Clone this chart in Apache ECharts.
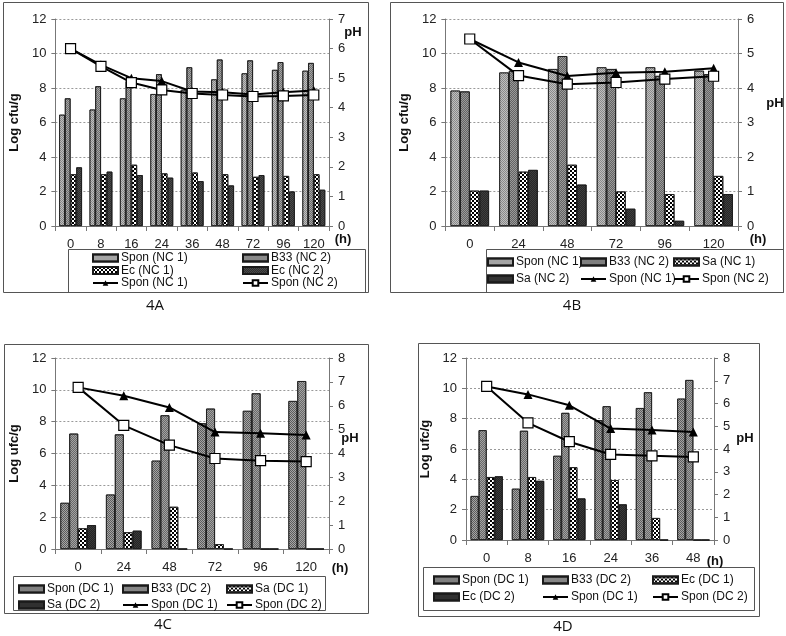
<!DOCTYPE html>
<html>
<head>
<meta charset="utf-8">
<script src="https://cdn.jsdelivr.net/npm/echarts@6/dist/echarts.min.js"></script>
<style>
  html, body { margin: 0; padding: 0; background: #fff; }
  #page { position: relative; width: 786px; height: 636px; }
  .panel { position: absolute; }
</style>
</head>
<body>
<div id="page">
  <div id="pA" class="panel" style="left:0;top:0;width:390px;height:318px"></div>
  <div id="pB" class="panel" style="left:390px;top:0;width:396px;height:318px"></div>
  <div id="pC" class="panel" style="left:0;top:318px;width:390px;height:318px"></div>
  <div id="pD" class="panel" style="left:390px;top:318px;width:396px;height:318px"></div>
</div>
<script>
// ---- Panel 4A : NC fermentation, E. coli challenge ----
const hoursA = ['0', '8', '16', '24', '36', '48', '72', '96', '120'];
const sponNC1_A = [6.45, 6.75, 7.4, 7.65, 7.9, 8.5, 8.85, 9.05, 9.0];
const b33NC2_A  = [7.4, 8.1, 8.4, 8.8, 9.2, 9.65, 9.6, 9.5, 9.45];
const ecNC1_A   = [3.0, 3.0, 3.55, 3.05, 3.1, 3.0, 2.85, 2.9, 3.0];
const ecNC2_A   = [3.4, 3.15, 2.95, 2.8, 2.6, 2.35, 2.95, 2.0, 2.1];
const phNC1_A   = [6.0, 5.45, 5.0, 4.9, 4.55, 4.52, 4.45, 4.52, 4.58];
const phNC2_A   = [6.0, 5.4, 4.85, 4.6, 4.48, 4.43, 4.38, 4.4, 4.43];

// ---- Panel 4B : NC fermentation, S. aureus challenge ----
const hoursB = ['0', '24', '48', '72', '96', '120'];
const sponNC1_B = [7.85, 8.9, 9.1, 9.2, 9.2, 9.0];
const b33NC2_B  = [7.8, 9.0, 9.85, 9.1, 8.7, 8.8];
const saNC1_B   = [2.05, 3.15, 3.55, 2.0, 1.85, 2.9];
const saNC2_B   = [2.05, 3.25, 2.4, 1.0, 0.3, 1.85];
const phNC1_B   = [5.42, 4.74, 4.35, 4.44, 4.47, 4.57];
const phNC2_B   = [5.42, 4.36, 4.11, 4.16, 4.26, 4.34];

// ---- Panel 4C : DC fermentation, S. aureus challenge ----
const hoursC = ['0', '24', '48', '72', '96', '120'];
const sponDC1_C = [2.9, 3.42, 5.55, 7.9, 8.68, 9.3];
const b33DC2_C  = [7.25, 7.2, 8.4, 8.82, 9.78, 10.55];
const saDC1_C   = [1.3, 1.05, 2.65, 0.3, 0, 0];
const saDC2_C   = [1.5, 1.15, 0, 0, 0, 0];
const phDC1_C   = [6.77, 6.42, 5.93, 4.9, 4.85, 4.78];
const phDC2_C   = [6.77, 5.18, 4.35, 3.79, 3.7, 3.66];

// ---- Panel 4D : DC fermentation, E. coli challenge ----
const hoursD = ['0', '8', '16', '24', '36', '48'];
const sponDC1_D = [2.9, 3.38, 5.55, 7.9, 8.7, 9.32];
const b33DC2_D  = [7.24, 7.2, 8.38, 8.82, 9.74, 10.55];
const ecDC1_D   = [4.15, 4.15, 4.8, 3.95, 1.45, 0];
const ecDC2_D   = [4.2, 3.9, 2.74, 2.35, 0, 0];
const phDC1_D   = [6.75, 6.4, 5.92, 4.9, 4.83, 4.75];
const phDC2_D   = [6.75, 5.15, 4.32, 3.76, 3.7, 3.65];

const FONT = '"Liberation Sans", Arial, sans-serif';

// bar fills
const checker = { symbol: 'rect', symbolSize: 1, color: '#000',
  dashArrayX: [[2, 2], [0, 2, 2, 0]], dashArrayY: [2, 0] };
const ditherLight = { symbol: 'rect', symbolSize: 1, color: 'rgba(255,255,255,0.45)',
  dashArrayX: [[1, 1], [0, 1, 1, 0]], dashArrayY: [1, 0] };
const ditherDark = { symbol: 'rect', symbolSize: 1, color: 'rgba(0,0,0,0.35)',
  dashArrayX: [[1, 1], [0, 1, 1, 0]], dashArrayY: [1, 0] };

function barSeries(name, data, color, decal) {
  return {
    type: 'bar', name: name, data: data, xAxisIndex: 0, yAxisIndex: 0,
    barGap: '0%',
    itemStyle: { color: color, borderColor: '#1a1a1a', borderWidth: 0.8, decal: decal }
  };
}
function lineSeries(name, data, kind) {
  const tri = kind === 'tri';
  return {
    type: 'line', name: name, data: data, xAxisIndex: 0, yAxisIndex: 1, z: 5,
    symbol: tri ? 'triangle' : 'rect', symbolSize: tri ? 9 : 10,
    showSymbol: true,
    lineStyle: { color: '#000', width: 2 },
    itemStyle: { color: tri ? '#000' : '#fff', borderColor: '#000', borderWidth: tri ? 0 : 1.2 }
  };
}

// legend column: bar series get a plain rectangle key, line series keep their line+marker key
function legendCol(items, left, top, gap) {
  return {
    orient: 'vertical', left: left, top: top,
    data: items.map(function (it) {
      return it[1] ? { name: it[0], icon: 'rect' } : { name: it[0] };
    }),
    itemWidth: 25, itemHeight: 7, itemGap: gap, padding: 0,
    selectedMode: false,
    textStyle: { fontFamily: FONT, fontSize: 12, color: '#111', lineHeight: 12, padding: [0, 0, 0, -2] }
  };
}

function txt(x, y, s) {
  return {
    type: 'text', x: x, y: y,
    style: { text: s, fontFamily: FONT, fontSize: 13, fontWeight: 'bold', fill: '#111',
      align: 'center', verticalAlign: 'middle' }
  };
}
function box(x, y, w, h) {
  return { type: 'rect', shape: { x: x + 0.5, y: y + 0.5, width: w, height: h },
    style: { fill: null, stroke: '#555', lineWidth: 1 }, z: 0 };
}
function label(x, y, s) {
  return { type: 'text', x: x, y: y,
    style: { text: s, fontFamily: '"Open Sans", "Noto Sans", sans-serif', fontSize: 15,
      fill: '#111', align: 'center', verticalAlign: 'middle' } };
}

function build(el, p) {
  const chart = echarts.init(document.getElementById(el), null, { renderer: 'canvas' });
  const option = {
    animation: false,
    grid: { left: p.grid[0], top: p.grid[1], width: p.grid[2], height: p.grid[3] },
    xAxis: {
      type: 'category', data: p.cats,
      axisLine: { lineStyle: { color: '#777' } },
      axisTick: { show: true, length: 5, lineStyle: { color: '#777' } },
      axisLabel: { fontFamily: FONT, fontSize: 13, color: '#222', margin: 12 }
    },
    yAxis: [{
      type: 'value', min: 0, max: 12, interval: 2,
      name: p.yName, nameLocation: 'middle', nameGap: p.nameGap, nameRotate: 90,
      nameTextStyle: { fontFamily: FONT, fontSize: 13, fontWeight: 'bold', color: '#111' },
      axisLine: { show: true, lineStyle: { color: '#777' } },
      axisTick: { show: true, length: 4, lineStyle: { color: '#777' } },
      axisLabel: { fontFamily: FONT, fontSize: 13, color: '#222', margin: 9 },
      splitLine: { show: true, lineStyle: { color: '#999', type: [2, 2] } }
    }, {
      type: 'value', min: 0, max: p.phMax, interval: 1, position: 'right',
      axisLine: { show: true, lineStyle: { color: '#777' } },
      axisTick: { show: true, length: 4, lineStyle: { color: '#777' } },
      axisLabel: { fontFamily: FONT, fontSize: 13, color: '#222', margin: 9 },
      splitLine: { show: false }
    }],
    legend: p.legend,
    graphic: p.graphic,
    series: p.bars.map(function (b) {
      const s = barSeries(b[0], b[1], b[2], b[3]);
      s.barCategoryGap = p.catGap;
      return s;
    }).concat([lineSeries(p.lines[0][0], p.lines[0][1], 'tri'),
               lineSeries(p.lines[1][0], p.lines[1][1], 'sq')])
  };
  chart.setOption(option);
}

// Line series keep a trailing space so their legend entries stay apart from the bars of the same strain.
const BAR = true, LINE = false;

build('pA', {
  cats: hoursA, grid: [43, 19, 286, 207], phMax: 7, catGap: '25%',
  yName: 'Log cfu/g', nameGap: 22,
  bars: [['Spon (NC 1)', sponNC1_A, '#8a8a8a', ditherLight],
         ['B33 (NC 2)', b33NC2_A, '#a6a6a6', ditherDark],
         ['Ec (NC 1)', ecNC1_A, '#fff', checker],
         ['Ec (NC 2)', ecNC2_A, '#4a4a4a', ditherDark]],
  lines: [['Spon (NC 1) ', phNC1_A], ['Spon (NC 2)', phNC2_A]],
  legend: [legendCol([['Spon (NC 1)', BAR], ['Ec (NC 1)', BAR], ['Spon (NC 1) ', LINE]], 92, 252, 0.5),
           legendCol([['B33 (NC 2)', BAR], ['Ec (NC 2)', BAR], ['Spon (NC 2)', LINE]], 242, 252, 0.5)],
  graphic: [box(3, 2, 365, 290), box(68, 249, 297, 43),
            txt(343, 239, '(h)'), txt(353, 32, 'pH'), label(155, 306, '4A')]
});

build('pB', {
  cats: hoursB, grid: [43, 19, 305, 207], phMax: 6, catGap: '21%',
  yName: 'Log cfu/g', nameGap: 20,
  bars: [['Spon (NC 1)', sponNC1_B, '#8a8a8a', ditherLight],
         ['B33 (NC 2)', b33NC2_B, '#9a9a9a', ditherDark],
         ['Sa (NC 1)', saNC1_B, '#fff', checker],
         ['Sa (NC 2)', saNC2_B, '#3e3e3e', ditherDark]],
  lines: [['Spon (NC 1) ', phNC1_B], ['Spon (NC 2)', phNC2_B]],
  legend: [legendCol([['Spon (NC 1)', BAR], ['Sa (NC 2)', BAR]], 97, 256, 5),
           legendCol([['B33 (NC 2)', BAR], ['Spon (NC 1) ', LINE]], 190, 256, 5),
           legendCol([['Sa (NC 1)', BAR], ['Spon (NC 2)', LINE]], 283, 256, 5)],
  graphic: [box(0, 2, 393, 290), box(96, 249, 297, 43),
            txt(368, 239, '(h)'), txt(385, 103, 'pH'), label(182, 306, '4B')]
});

build('pC', {
  cats: hoursC, grid: [43, 40, 286, 191], phMax: 8, catGap: '22%',
  yName: 'Log ufc/g', nameGap: 21,
  bars: [['Spon (DC 1)', sponDC1_C, '#5c5c5c', ditherLight],
         ['B33 (DC 2)', b33DC2_C, '#a2a2a2', ditherDark],
         ['Sa (DC 1)', saDC1_C, '#fff', checker],
         ['Sa (DC 2)', saDC2_C, '#3a3a3a', ditherDark]],
  lines: [['Spon (DC 1) ', phDC1_C], ['Spon (DC 2)', phDC2_C]],
  legend: [legendCol([['Spon (DC 1)', BAR], ['Sa (DC 2)', BAR]], 18, 265, 4),
           legendCol([['B33 (DC 2)', BAR], ['Spon (DC 1) ', LINE]], 122, 265, 4),
           legendCol([['Sa (DC 1)', BAR], ['Spon (DC 2)', LINE]], 226, 265, 4)],
  graphic: [box(4, 26, 364, 269), box(13, 258, 312, 34),
            txt(340, 250, '(h)'), txt(350, 120, 'pH'), label(163, 307, '4C')]
});

build('pD', {
  cats: hoursD, grid: [76, 40, 248, 182], phMax: 8, catGap: '22%',
  yName: 'Log ufc/g', nameGap: 21,
  bars: [['Spon (DC 1)', sponDC1_D, '#5c5c5c', ditherLight],
         ['B33 (DC 2)', b33DC2_D, '#a2a2a2', ditherDark],
         ['Ec (DC 1)', ecDC1_D, '#fff', checker],
         ['Ec (DC 2)', ecDC2_D, '#3a3a3a', ditherDark]],
  lines: [['Spon (DC 1) ', phDC1_D], ['Spon (DC 2)', phDC2_D]],
  legend: [legendCol([['Spon (DC 1)', BAR], ['Ec (DC 2)', BAR]], 43, 256, 5),
           legendCol([['B33 (DC 2)', BAR], ['Spon (DC 1) ', LINE]], 152, 256, 5),
           legendCol([['Ec (DC 1)', BAR], ['Spon (DC 2)', LINE]], 262, 256, 5)],
  graphic: [box(28, 25, 341, 273), box(33, 249, 331, 43),
            txt(325, 243, '(h)'), txt(355, 120, 'pH'), label(173, 309, '4D')]
});
</script>
</body>
</html>
